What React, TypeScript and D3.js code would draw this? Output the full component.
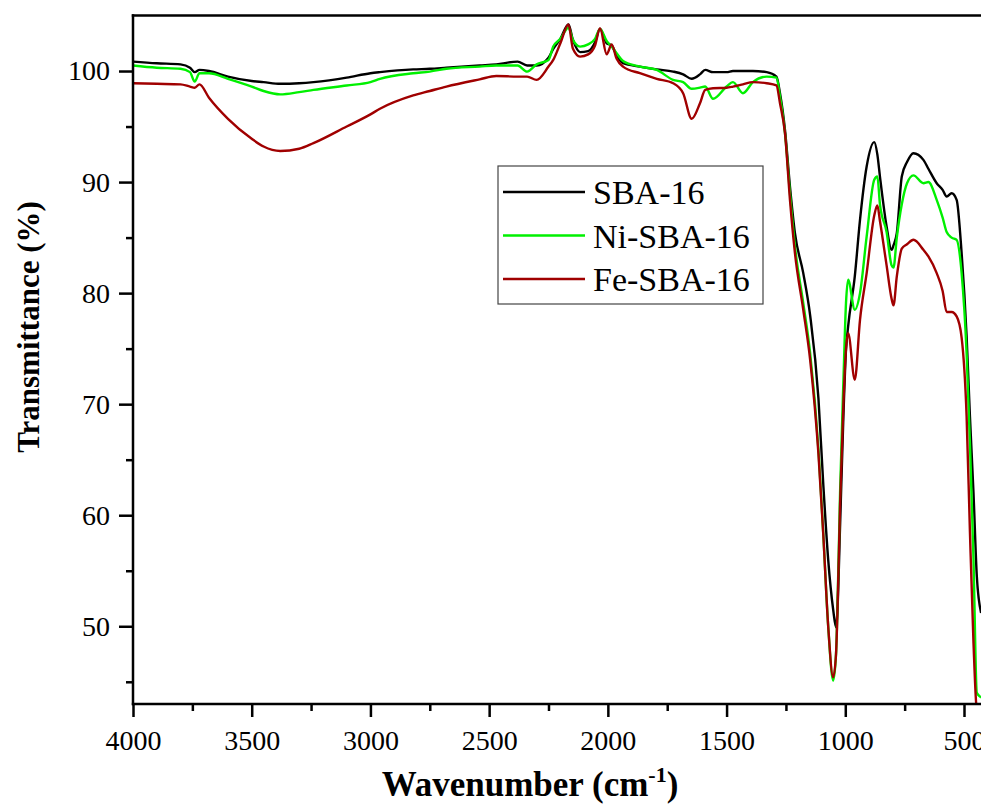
import * as d3 from "d3";
import { useEffect, useRef } from "react";

// FTIR spectra
const wavenumbers = [
  4000, 3900, 3800, 3760, 3740, 3720, 3680, 3600, 3500, 3450, 3380, 3300, 3240, 3100, 3000, 2960,
  2820, 2750, 2680, 2540, 2470, 2380, 2340, 2300, 2250, 2230, 2200, 2166, 2147, 2117, 2083, 2054,
  2033, 2005, 1984, 1963, 1936, 1865, 1794, 1725, 1683, 1647, 1612, 1590, 1557, 1500, 1473, 1431,
  1389, 1331, 1290, 1275, 1254, 1233, 1212, 1177, 1148, 1113, 1093, 1072, 1051, 1039, 1034, 1022,
  1008, 997, 988, 960, 938, 910, 878, 865, 854, 826, 805, 797, 783, 762, 740, 713,
  671, 650, 615, 590, 573, 552, 531, 510, 489, 475, 460, 446, 428,
];

const sba16 = [
  100.85, 100.7, 100.6, 100.3, 99.9, 100.1, 100.0, 99.5, 99.1, 99.0, 98.85, 98.9, 99.0, 99.4, 99.8, 99.9,
  100.15, 100.2, 100.3, 100.5, 100.6, 100.85, 100.5, 100.5, 101.2, 102.0, 102.9, 104.2, 102.8, 101.7, 101.8, 102.6,
  103.8, 102.5, 102.3, 101.4, 100.7, 100.4, 100.15, 99.95, 99.7, 99.3, 99.7, 100.1, 99.9, 99.9, 100.0, 100.0,
  100.0, 99.9, 99.5, 98.0, 94.7, 89.6, 85.4, 81.8, 78.0, 70.5, 62.9, 56.0, 51.5, 49.9, 51.0, 59.0,
  68.9, 74.9, 77.0, 81.5, 86.6, 91.4, 93.6, 92.5, 90.5, 86.0, 83.9, 84.3, 85.4, 90.5, 91.8, 92.6,
  92.0, 91.2, 89.9, 89.3, 88.7, 89.0, 88.4, 83.6, 76.1, 68.9, 62.0, 54.5, 51.2,
];

const niSba16 = [
  100.5, 100.3, 100.2, 99.9, 99.05, 99.8, 99.8, 99.3, 98.6, 98.2, 97.9, 98.1, 98.3, 98.7, 99.0, 99.3,
  99.8, 99.95, 100.2, 100.4, 100.5, 100.5, 99.95, 100.6, 101.0, 102.2, 102.9, 103.9, 102.8, 102.2, 102.4, 102.9,
  103.8, 102.7, 102.2, 101.6, 100.9, 100.4, 100.1, 99.2, 99.0, 98.4, 98.5, 98.6, 97.5, 98.6, 99.0, 98.0,
  99.0, 99.5, 99.4, 97.7, 94.4, 89.0, 84.2, 79.1, 74.6, 65.9, 58.4, 50.0, 45.1, 47.5, 50.8, 62.0,
  72.0, 79.1, 81.2, 78.5, 80.0, 85.1, 90.2, 90.5, 88.0, 85.5, 82.5, 82.3, 85.0, 88.0, 89.9, 90.6,
  89.9, 90.0, 88.4, 86.8, 85.5, 85.0, 84.8, 81.8, 74.6, 66.5, 56.0, 44.0, 43.6,
];

const feSba16 = [
  98.9, 98.85, 98.8, 98.6, 98.5, 98.8, 97.6, 95.7, 93.9, 93.2, 92.8, 93.0, 93.5, 95.0, 96.1, 96.6,
  97.8, 98.2, 98.6, 99.25, 99.55, 99.5, 99.5, 99.2, 100.4, 101.0, 102.5, 104.2, 102.0, 101.3, 101.5, 102.3,
  103.85, 101.5, 102.4, 101.1, 100.4, 99.8, 99.3, 98.9, 98.0, 95.7, 97.1, 98.3, 98.45, 98.5, 98.6, 98.8,
  99.0, 98.9, 98.7, 97.1, 94.4, 88.4, 83.6, 78.5, 74.0, 65.5, 58.4, 50.0, 45.4, 47.5, 50.5, 61.0,
  70.0, 75.0, 76.4, 72.2, 77.6, 81.8, 87.0, 87.9, 86.5, 82.5, 79.5, 78.9, 81.5, 84.0, 84.4, 84.8,
  83.9, 83.3, 81.8, 80.2, 78.3, 78.3, 77.9, 76.0, 68.9, 58.5, 48.5, 42.5, 42.0,
];

const seriesNames = ["SBA-16", "Ni-SBA-16", "Fe-SBA-16"];
const seriesColors = ["#000000", "#00f000", "#a00000"];

const xTicks = [4000, 3500, 3000, 2500, 2000, 1500, 1000, 500];
const xMinorTicks = [3750, 3250, 2750, 2250, 1750, 1250, 750];
const yTicks = [50, 60, 70, 80, 90, 100];
const yMinorTicks = [45, 55, 65, 75, 85, 95];

export default function App() {
  const ref = useRef<SVGSVGElement>(null);

  useEffect(() => {
    drawChart();
  }, []);

  function drawChart() {
    const svg = d3.select(ref.current);
    svg.selectAll("*").remove();

    const width = 981;
    const left = 133;
    const top = 15.5;
    const bottom = 704;
    const font = "'Liberation Serif', 'Times New Roman', serif";

    const x = d3.scaleLinear().domain([4000, 500]).range([left, 964]);
    const y = d3.scaleLinear().domain([43, 105]).range([bottom, top]);

    svg.append("rect").attr("width", width).attr("height", 807).attr("fill", "white");

    svg.append("clipPath").attr("id", "plotClip")
      .append("rect")
      .attr("x", left).attr("y", top)
      .attr("width", width - left + 20).attr("height", bottom - top);

    // curves
    const allSeries = [sba16, niSba16, feSba16];
    const line = d3.line<number>()
      .x((d, i) => x(wavenumbers[i]))
      .y(d => y(d))
      .curve(d3.curveMonotoneX);

    svg.append("g").attr("clip-path", "url(#plotClip)")
      .selectAll("path")
      .data(allSeries)
      .enter()
      .append("path")
      .attr("d", d => line(d))
      .attr("fill", "none")
      .attr("stroke", (d, i) => seriesColors[i])
      .attr("stroke-width", 2.4)
      .attr("stroke-linejoin", "round");

    // x axis
    const xAxis = svg.append("g").attr("transform", "translate(0," + bottom + ")")
      .call(d3.axisBottom(x).tickValues(xTicks).tickSize(13).tickPadding(13).tickFormat(d3.format("d")));
    xAxis.select(".domain").remove();
    xAxis.selectAll("line").attr("stroke-width", 2.5);
    xAxis.selectAll("text").style("font", "28px " + font).attr("fill", "black");

    const xMinor = svg.append("g").attr("transform", "translate(0," + bottom + ")")
      .call(d3.axisBottom(x).tickValues(xMinorTicks).tickSize(7).tickFormat(() => ""));
    xMinor.select(".domain").remove();
    xMinor.selectAll("line").attr("stroke-width", 2.5);

    // y axis
    const yAxis = svg.append("g").attr("transform", "translate(" + left + ",0)")
      .call(d3.axisLeft(y).tickValues(yTicks).tickSize(14).tickPadding(9));
    yAxis.select(".domain").remove();
    yAxis.selectAll("line").attr("stroke-width", 2.5);
    yAxis.selectAll("text").style("font", "28px " + font).attr("fill", "black");

    const yMinor = svg.append("g").attr("transform", "translate(" + left + ",0)")
      .call(d3.axisLeft(y).tickValues(yMinorTicks).tickSize(7).tickFormat(() => ""));
    yMinor.select(".domain").remove();
    yMinor.selectAll("line").attr("stroke-width", 2.5);

    // frame
    svg.append("line").attr("x1", left).attr("x2", left).attr("y1", top - 1.2).attr("y2", bottom + 1.2)
      .attr("stroke", "black").attr("stroke-width", 2.5);
    svg.append("line").attr("x1", left - 1.2).attr("x2", width + 5).attr("y1", bottom).attr("y2", bottom)
      .attr("stroke", "black").attr("stroke-width", 2.5);
    svg.append("line").attr("x1", left - 1.2).attr("x2", width + 5).attr("y1", top).attr("y2", top)
      .attr("stroke", "black").attr("stroke-width", 2.5);

    // axis titles
    const xTitle = svg.append("text")
      .attr("x", 530).attr("y", 796)
      .attr("text-anchor", "middle")
      .style("font", "bold 35px " + font);
    xTitle.append("tspan").text("Wavenumber (cm");
    xTitle.append("tspan").attr("dy", -14).style("font-size", "22px").text("-1");
    xTitle.append("tspan").attr("dy", 14).text(")");

    svg.append("text")
      .attr("transform", "translate(39,327)rotate(-90)")
      .attr("text-anchor", "middle")
      .style("font", "bold 31px " + font)
      .text("Transmittance (%)");

    // legend
    const legend = svg.append("g");
    legend.append("rect")
      .attr("x", 498).attr("y", 166).attr("width", 265).attr("height", 138)
      .attr("fill", "white").attr("stroke", "#444").attr("stroke-width", 1.2);
    const rows = legend.selectAll("g.row").data(seriesNames).enter().append("g")
      .attr("class", "row")
      .attr("transform", (d, i) => "translate(0," + (192 + i * 43.5) + ")");
    rows.append("line")
      .attr("x1", 503).attr("x2", 585)
      .attr("stroke", (d, i) => seriesColors[i])
      .attr("stroke-width", 2.5);
    rows.append("text")
      .attr("x", 593).attr("y", 12)
      .style("font", "34px " + font)
      .text(d => d);
  }

  return (
    <div style={{ position: "absolute", left: 0, top: 0 }}>
      <svg ref={ref} width={981} height={807} style={{ display: "block" }}></svg>
    </div>
  );
}
